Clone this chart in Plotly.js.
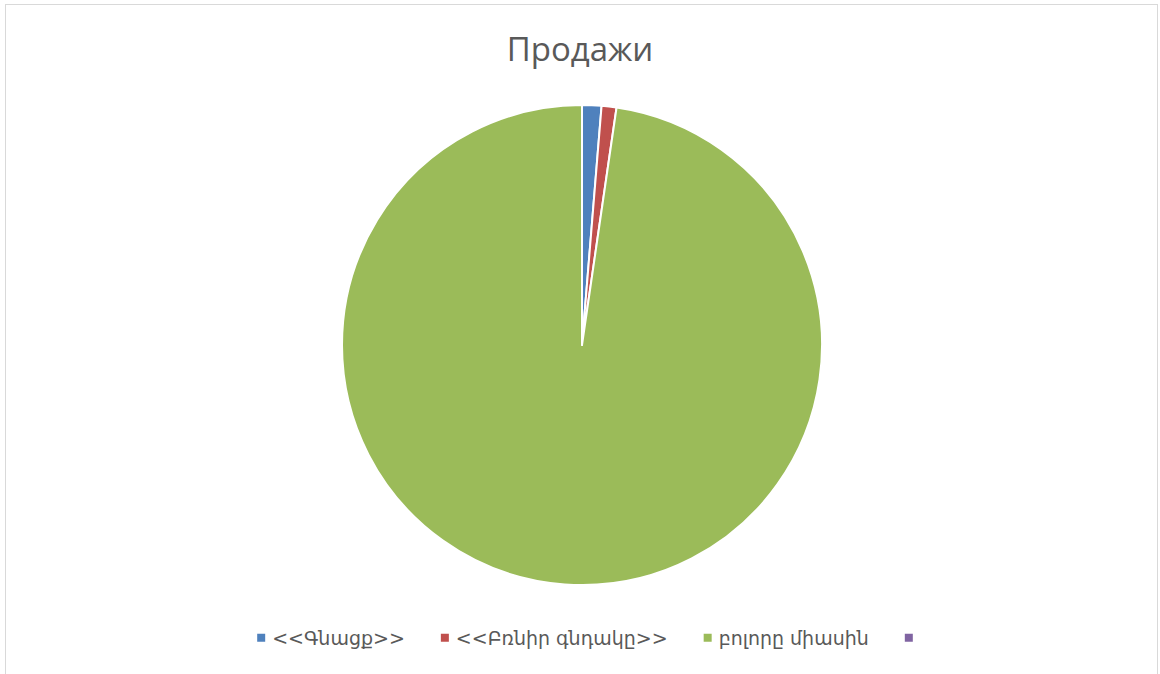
<!DOCTYPE html>
<html>
<head>
<meta charset="utf-8">
<script src="https://cdn.plot.ly/plotly-3.0.1.min.js"></script>
<style>
html,body{margin:0;padding:0;background:#fff;}
#chart{width:1160px;height:674px;}
#frame{position:absolute;left:5px;top:4px;width:1151px;height:700px;border:1px solid #d9d9d9;border-bottom:none;pointer-events:none;}
</style>
</head>
<body>
<div id="chart"></div>
<div id="frame"></div>
<script>
const labels = ["<<Գնացք>>", "<<Բռնիր գնդակը>>", "բոլորը միասին", " "];
const values = [1.3, 1.0, 97.7, 0];
const colors = ["#4f81bd", "#c0504d", "#9bbb59", "#8064a2"];

const data = [{
  type: "pie",
  labels: labels,
  values: values,
  sort: false,
  direction: "clockwise",
  rotation: 0,
  textinfo: "none",
  hoverinfo: "label+percent",
  marker: {colors: colors, line: {color: "#ffffff", width: 2}},
  domain: {x: [0, 1], y: [0, 1]}
}];

const layout = {
  width: 1160,
  height: 674,
  margin: {l: 4, r: 0, t: 105, b: 89},
  paper_bgcolor: "#ffffff",
  title: {
    text: "Продажи",
    font: {family: "Open Sans, DejaVu Sans, sans-serif", size: 33, color: "#595959"},
    x: 0.5, xanchor: "center", y: 0.926, yanchor: "middle"
  },
  showlegend: true,
  legend: {
    orientation: "h",
    x: 0.5, xanchor: "center",
    y: -0.11, yanchor: "middle",
    font: {family: "DejaVu Sans, Noto Sans, sans-serif", size: 19, color: "#595959"},
    traceorder: "normal"
  }
};

Plotly.newPlot("chart", data, layout, {displayModeBar: false, staticPlot: true}).then(function(){
  const items = Array.from(document.querySelectorAll("#chart .legend .traces"));
  let s = 0;
  items.forEach(function(g){
    const p = g.querySelector(".legendpoints path");
    if (p) {
      p.setAttribute("d", "M4,4H-4V-4H4Z");
      p.setAttribute("transform", "translate(29,0)");
      p.style.strokeWidth = "0";
    }
    const m = /translate\(\s*([-\d.]+)[ ,]+([-\d.]+)\s*\)/.exec(g.getAttribute("transform") || "");
    const y = m ? parseFloat(m[2]) : 0;
    g.setAttribute("transform", "translate(" + s + "," + y + ")");
    const t = g.querySelector("text.legendtext");
    const tw = t ? t.getComputedTextLength() : 0;
    s += tw + 51;
  });
  const firstP = items[0].querySelector(".legendpoints path").getBoundingClientRect();
  const lastP = items[items.length-1].querySelector(".legendpoints path").getBoundingClientRect();
  const center = (firstP.left + lastP.right) / 2;
  const delta = 585 - center;
  const lg = document.querySelector("#chart g.legend");
  const m2 = /translate\(\s*([-\d.]+)[ ,]+([-\d.]+)\s*\)/.exec(lg.getAttribute("transform") || "");
  if (m2) {
    lg.setAttribute("transform", "translate(" + (parseFloat(m2[1]) + delta) + "," + m2[2] + ")");
  }
});
</script>
</body>
</html>
